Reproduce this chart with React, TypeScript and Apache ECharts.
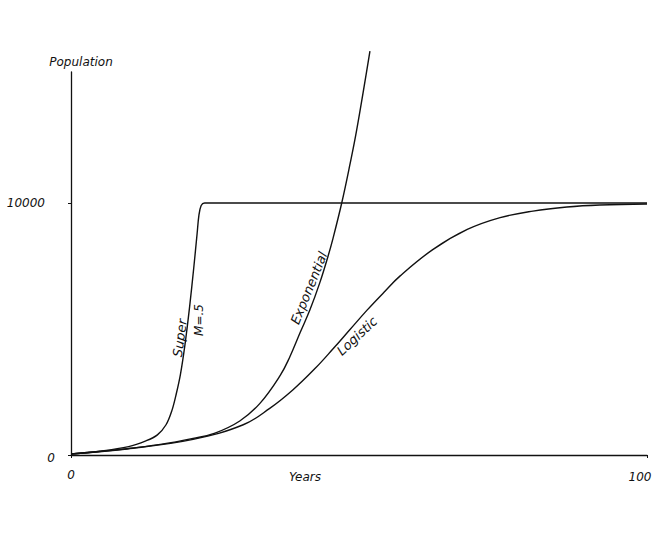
import React, { useEffect, useRef } from "react";
import * as echarts from "echarts";

const superYears = [0, 5, 10, 13, 15, 16.5, 17.5, 18.3, 19, 19.8, 20.6, 21.3, 21.9, 22.2, 22.6, 23.2, 100];
const superValues = [40, 150, 330, 560, 800, 1200, 1750, 2450, 3200, 4400, 5900, 7400, 8800, 9500, 9900, 10000, 10000];

const expYears = [0, 9.7, 15.5, 21.2, 25, 29.3, 32.8, 36.3, 38, 39.8, 41.5, 43.2, 44.6, 45.5, 47, 48.4, 49.6, 51.9];
const expValues = [40, 250, 420, 660, 870, 1350, 2050, 3150, 3900, 4870, 5770, 6840, 7870, 8610, 10000, 11500, 12900, 16030];

const logYears = [0, 9.7, 21.2, 29.9, 34.5, 38.5, 42.4, 45.5, 48.4, 51.4, 54.3, 57.1, 62.8, 68.8, 74.5, 80.2, 86.1, 91.8, 100];
const logValues = [40, 240, 620, 1200, 1850, 2580, 3440, 4215, 4970, 5750, 6450, 7100, 8150, 8950, 9420, 9680, 9840, 9920, 9960];

const xTicks = [0, 100];
const yTicks = [0, 10000];
const yMax = 15200;

const pairs = (xs: number[], ys: number[]) => xs.map((x, i) => [x, ys[i]]);

const font = "'DejaVu Sans', sans-serif";

export default function App() {
  const ref = useRef<HTMLDivElement>(null);
  useEffect(() => {
    if (!ref.current) return;
    const chart = echarts.init(ref.current, undefined, { renderer: "svg" });
    const lineStyle = { color: "#111", width: 1.4 };
    const txt = (text: string, x: number, y: number, rot: number, size = 13) => ({
      type: "text",
      x,
      y,
      rotation: (rot * Math.PI) / 180,
      style: {
        text,
        fill: "#111",
        font: `italic ${size}px ${font}`,
        align: "center",
        verticalAlign: "middle",
      },
    });
    chart.setOption({
      animation: false,
      backgroundColor: "#fff",
      grid: { left: 71, right: 20, top: 72, bottom: 92 },
      xAxis: {
        type: "value",
        min: xTicks[0],
        max: xTicks[1],
        interval: 100,
        axisLine: { lineStyle: { color: "#111", width: 1.3 } },
        axisTick: { show: true, length: 3, lineStyle: { color: "#111" } },
        splitLine: { show: false },
        axisLabel: {
          color: "#111",
          fontStyle: "italic",
          fontFamily: font,
          fontSize: 12,
          margin: 14,
          formatter: (v: number) => (v === 0 ? "{a|0}" : "{b|" + v + "}"),
          rich: {
            a: { fontStyle: "italic", fontFamily: font, fontSize: 12, color: "#111" },
            b: { fontStyle: "italic", fontFamily: font, fontSize: 12, color: "#111", padding: [2, 14, 0, 0] },
          },
        },
      },
      yAxis: {
        type: "value",
        min: yTicks[0],
        max: yMax,
        interval: yTicks[1],
        axisLine: { show: true, lineStyle: { color: "#111", width: 1.3 } },
        axisTick: { show: true, length: 3, lineStyle: { color: "#111" } },
        splitLine: { show: false },
        axisLabel: {
          color: "#111",
          fontStyle: "italic",
          fontFamily: font,
          fontSize: 12,
          margin: 16,
          showMaxLabel: false,
          formatter: (v: number) => (v === 0 ? "{z|0}" : "{t|" + String(v) + "}"),
          rich: {
            z: { fontStyle: "italic", fontFamily: font, fontSize: 12, color: "#111", padding: [6, 0, 0, 0] },
            t: { fontStyle: "italic", fontFamily: font, fontSize: 12, color: "#111", padding: [0, 10, 0, 0] },
          },
        },
      },
      series: [
        {
          name: "Super",
          type: "line",
          data: pairs(superYears, superValues),
          showSymbol: false,
          smooth: 0.35,
          lineStyle,
        },
        {
          name: "Exponential",
          type: "line",
          data: pairs(expYears, expValues),
          showSymbol: false,
          smooth: 0.4,
          clip: false,
          lineStyle,
        },
        {
          name: "Logistic",
          type: "line",
          data: pairs(logYears, logValues),
          showSymbol: false,
          smooth: 0.4,
          lineStyle,
        },
      ],
      graphic: [
        txt("Population", 81, 62, 0, 12),
        txt("Years", 305, 477, 0, 12),
        txt("Super", 180, 338, 82, 13),
        txt("M=.5", 199, 320, 90, 12),
        txt("Exponential", 309, 288, 68, 13),
        txt("Logistic", 357, 336, 43, 13),
      ],
    });
    return () => chart.dispose();
  }, []);
  return (
    <div
      ref={ref}
      style={{ position: "fixed", left: 0, top: 0, width: 667, height: 547, background: "#fff" }}
    />
  );
}
